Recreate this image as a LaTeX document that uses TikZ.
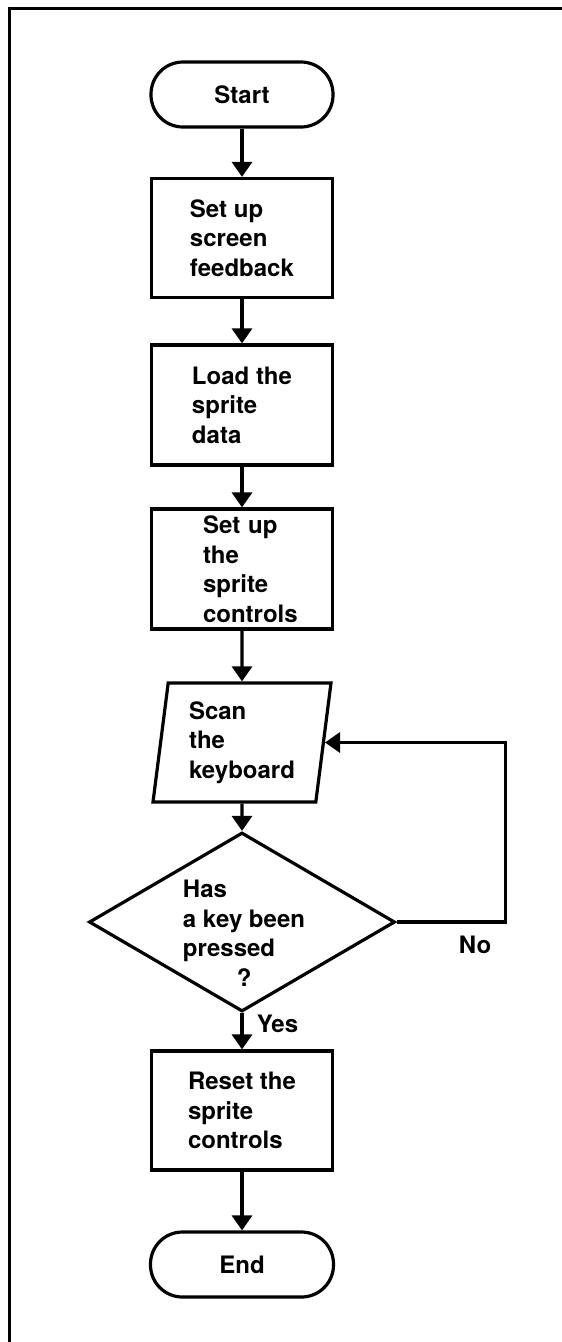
\documentclass[tikz,border=0pt]{standalone}
\usepackage{fontspec}
\setmainfont{TeX Gyre Heros}
\usetikzlibrary{arrows.meta,shapes.geometric}
\begin{document}
\begin{tikzpicture}[x=1pt,y=-1pt,
  every node/.style={font=\fontsize{24}{29.5}\selectfont\bfseries},
  flow/.style={line width=3.2pt, -{Triangle[length=15pt,width=20pt]}},
  terminal/.style={draw, line width=3.2pt, rectangle, rounded corners=32pt,
    minimum width=182pt, minimum height=65pt, inner sep=0pt},
  process/.style={draw, line width=3.2pt, rectangle, minimum width=181pt,
    minimum height=119pt, inner sep=0pt, align=left},
  io/.style={draw, line width=3.2pt, trapezium, trapezium left angle=79.5,
    trapezium right angle=100.5, trapezium stretches body,
    minimum width=178pt, minimum height=119pt, inner sep=0pt, align=left},
  decision/.style={draw, line width=3.2pt, diamond, minimum width=306pt,
    minimum height=179pt, inner sep=0pt},
]
\useasboundingbox (0,0) rectangle (562,1342);

% open frame: left and top edges only
\draw[line width=3.5pt] (9.5,1342) -- (9.5,8.5) -- (562,8.5);

% flowchart steps
\node[terminal] (start) at (242,94.5) {Start};
\node[process] (setup) at (242,238) {Set up\\screen\\feedback};
\node[process, minimum height=120pt] (load) at (242,405) {Load the\\sprite\\data};
\node[process, minimum height=120pt, text width=78pt, inner xsep=51pt] (ctrl) at (242,569)
  {Set up\\the\\sprite\\\mbox{controls}};
\node[io] (scan) at (242,742.5) {Scan\\the\\keyboard};
\node[decision] (dec) at (242,922) {};
\node[align=left, inner sep=0pt] (ask) at (244,933) {Has\\a key been\\pressed\\\hspace*{54pt}?};
\node[process] (reset) at (242,1110.5) {Reset the\\sprite\\controls};
\node[terminal, minimum width=183pt] (stop) at (242,1264.5) {End};

% connectors
\draw[flow] (start) -- (setup);
\draw[flow] (setup) -- (load);
\draw[flow] (load) -- (ctrl);
\draw[flow] (ctrl) -- (scan);
\draw[flow] (scan) -- (dec);
\draw[flow] (dec.east) -- node[pos=0.72, below=9pt] (no) {No} ++(109,0) |- (scan.east);
\draw[flow] (dec.south) -- node[pos=0.3, right=10pt] (yes) {Yes} (reset.north);
\draw[flow] (reset) -- (stop);
\end{tikzpicture}
\end{document}
